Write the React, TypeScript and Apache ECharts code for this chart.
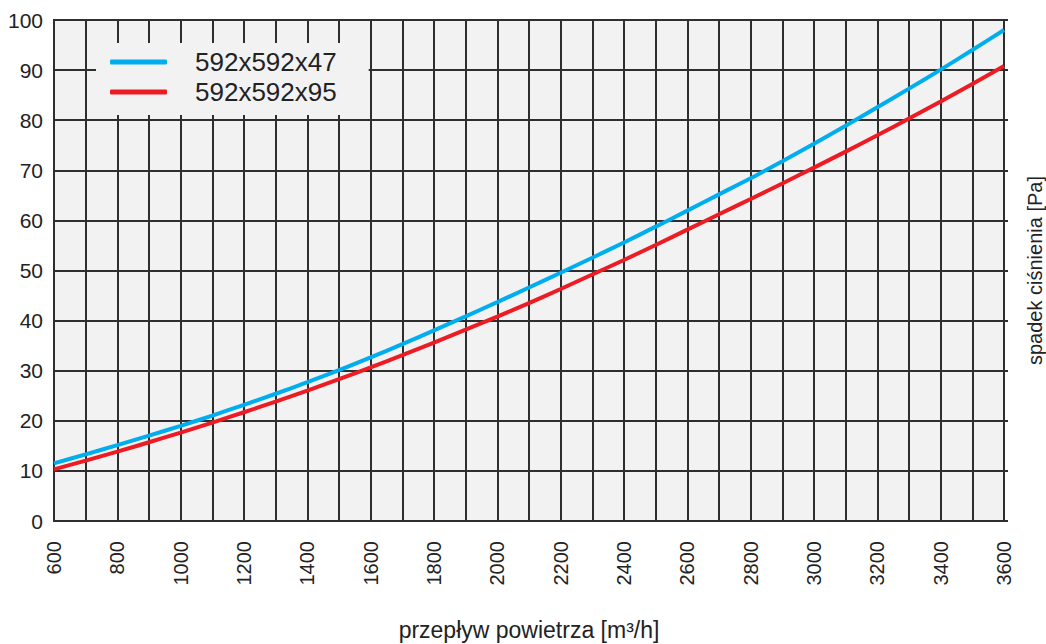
import React, { useEffect, useRef } from "react";
import * as echarts from "echarts";

const flowTicks = [600, 700, 800, 900, 1000, 1100, 1200, 1300, 1400, 1500, 1600, 1700, 1800, 1900, 2000, 2100, 2200, 2300, 2400, 2500, 2600, 2700, 2800, 2900, 3000, 3100, 3200, 3300, 3400, 3500, 3600];
const seriesNames = ["592x592x47", "592x592x95"];
const drop47 = [11.5, 13.3, 15.15, 17.05, 19.0, 21.05, 23.2, 25.4, 27.7, 30.1, 32.65, 35.3, 38.05, 40.85, 43.7, 46.6, 49.55, 52.55, 55.6, 58.75, 61.95, 65.2, 68.4, 71.8, 75.3, 78.9, 82.6, 86.3, 90.1, 94.0, 98.0];
const drop95 = [10.3, 12.05, 13.85, 15.72, 17.65, 19.65, 21.71, 23.83, 26.03, 28.31, 30.67, 33.1, 35.6, 38.18, 40.8, 43.5, 46.3, 49.2, 52.1, 55.1, 58.15, 61.23, 64.28, 67.38, 70.53, 73.73, 77.0, 80.33, 83.73, 87.23, 90.83];
const xAxisTitle = "przepływ powietrza [m³/h]";
const yAxisTitle = "spadek ciśnienia [Pa]";

const FONT = "'Liberation Sans', Arial, sans-serif";
const TXT = "#222";
const GRIDC = "#2e2e2e";

export default function App() {
  const ref = useRef<HTMLDivElement>(null);
  useEffect(() => {
    if (!ref.current) return;
    const chart = echarts.init(ref.current, undefined, { renderer: "svg" });
    chart.setOption({
      animation: false,
      backgroundColor: "#ffffff",
      textStyle: { fontFamily: FONT },
      grid: {
        left: 54,
        right: 42,
        top: 20,
        bottom: 123,
        outerBoundsMode: "none",
        containLabel: false,
        show: true,
        backgroundColor: "#f2f2f2",
        borderColor: GRIDC,
        borderWidth: 2,
      },
      legend: {
        orient: "vertical",
        left: 96,
        top: 43,
        padding: [6, 32, 10, 14],
        backgroundColor: "#f2f2f2",
        icon: "roundRect",
        itemWidth: 57,
        itemHeight: 5,
        itemGap: 4,
        data: seriesNames,
        textStyle: {
          fontSize: 26,
          lineHeight: 26,
          color: TXT,
          fontFamily: FONT,
          padding: [0, 0, 0, 23],
        },
      },
      xAxis: {
        type: "value",
        min: 600,
        max: 3600,
        interval: 100,
        name: xAxisTitle,
        nameLocation: "middle",
        nameGap: 97,
        nameTextStyle: { fontSize: 23, lineHeight: 23, color: TXT, fontFamily: FONT },
        axisLine: { show: false },
        axisTick: { show: false },
        axisLabel: {
          rotate: 90,
          margin: 20,
          fontSize: 20,
          color: TXT,
          fontFamily: FONT,
          showMinLabel: true,
          showMaxLabel: true,
          formatter: (v: number) => (v % 200 === 0 ? String(v) : ""),
        },
        splitLine: { show: true, lineStyle: { color: GRIDC, width: 2 } },
      },
      yAxis: [
        {
          type: "value",
          min: 0,
          max: 100,
          interval: 10,
          axisLine: { show: false },
          axisTick: { show: false },
          axisLabel: { margin: 11, fontSize: 21, color: TXT, fontFamily: FONT },
          splitLine: { show: true, lineStyle: { color: GRIDC, width: 2 } },
        },
        {
          type: "value",
          position: "right",
          min: 0,
          max: 100,
          interval: 10,
          name: yAxisTitle,
          nameLocation: "middle",
          nameRotate: 90,
          nameGap: 21,
          nameTextStyle: { fontSize: 20, color: TXT, fontFamily: FONT },
          axisLine: { show: false },
          axisTick: { show: true, length: 4, lineStyle: { color: GRIDC, width: 2 } },
          axisLabel: { show: false },
          splitLine: { show: false },
        },
      ],
      series: [
        {
          name: seriesNames[0],
          type: "line",
          smooth: 0.3,
          symbol: "none",
          data: flowTicks.map((q, i) => [q, drop47[i]]),
          lineStyle: { color: "#00aeef", width: 4 },
          itemStyle: { color: "#00aeef" },
          z: 3,
        },
        {
          name: seriesNames[1],
          type: "line",
          smooth: 0.3,
          symbol: "none",
          data: flowTicks.map((q, i) => [q, drop95[i]]),
          lineStyle: { color: "#ed1c24", width: 4 },
          itemStyle: { color: "#ed1c24" },
          z: 3,
        },
      ],
    });
    return () => chart.dispose();
  }, []);
  return (
    <div
      ref={ref}
      style={{ position: "fixed", left: 0, top: 0, width: 1046, height: 644 }}
    />
  );
}
